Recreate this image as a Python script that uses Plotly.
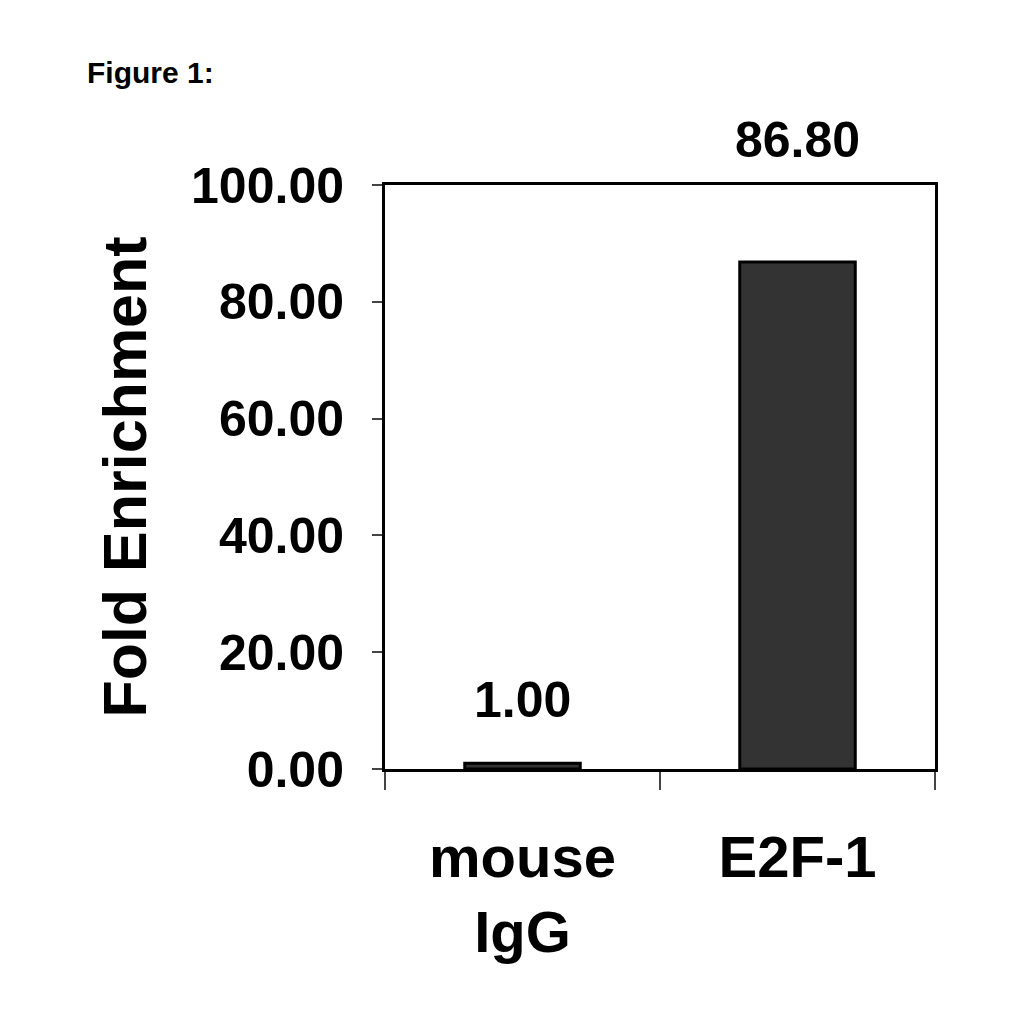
import plotly.graph_objects as go

# Data
categories = ["mouse<br>IgG", "E2F-1"]
fold_enrichment = [1.00, 86.80]
value_labels = ["1.00", "86.80"]
label_shift = [63, 122]   # px above bar top where the value text sits
y_ticks = [0, 20, 40, 60, 80, 100]

FONT = "Liberation Sans, Arial, sans-serif"

fig = go.Figure()
fig.add_trace(go.Bar(
    x=categories,
    y=fold_enrichment,
    width=0.42,
    marker=dict(color="#333333", line=dict(color="black", width=3)),
    showlegend=False,
))

for cat, val, txt, shift in zip(categories, fold_enrichment, value_labels, label_shift):
    fig.add_annotation(x=cat, y=val, text=txt, showarrow=False,
                       yanchor="middle", yshift=shift,
                       font=dict(family=FONT, size=50, color="black", weight="bold"))

# "Figure 1:" header, placed in paper coords relative to the plot box (385..935, 185..769 px)
fig.add_annotation(x=(85 - 385) / 550, y=(769 - 73) / 584, xref="paper", yref="paper",
                   text="Figure 1:", showarrow=False, xanchor="left", yanchor="middle",
                   font=dict(family=FONT, size=30, color="black", weight="bold"))

fig.update_layout(
    width=1024, height=1024,
    margin=dict(l=377, r=97, t=177, b=263),
    plot_bgcolor="white", paper_bgcolor="white",
    font=dict(family=FONT, color="black"),
    bargap=0.58,
)
fig.update_xaxes(
    showline=True, linecolor="black", linewidth=3, mirror=True,
    ticks="outside", tickson="boundaries", ticklen=18, tickwidth=2, tickcolor="#444",
    tickfont=dict(family=FONT, size=58, weight="bold"),
    ticklabelstandoff=35,
    showgrid=False,
)
fig.update_yaxes(
    range=[0, 100], tickvals=y_ticks, tickformat=".2f",
    showline=True, linecolor="black", linewidth=3, mirror=True,
    ticks="outside", ticklen=10, tickwidth=2, tickcolor="#444",
    tickfont=dict(family=FONT, size=50, weight="bold"),
    ticklabelstandoff=18,
    showgrid=False, zeroline=False,
    title=dict(text="Fold Enrichment", standoff=25,
               font=dict(family=FONT, size=61, weight="bold")),
)

fig.write_html("out.html")
